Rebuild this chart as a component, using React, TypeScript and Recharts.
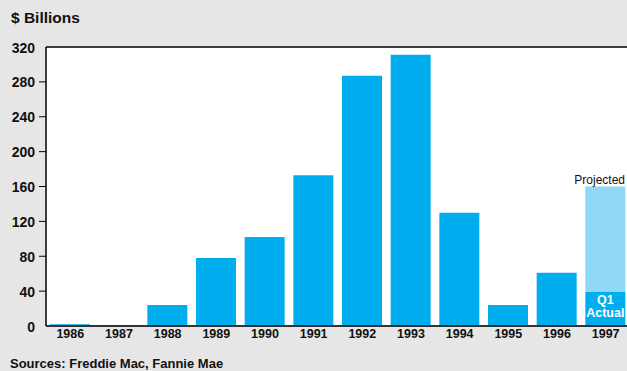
import React from "react";
import { BarChart, Bar, XAxis, YAxis, CartesianGrid, ReferenceLine, LabelList } from "recharts";

const years = ["1986", "1987", "1988", "1989", "1990", "1991", "1992", "1993", "1994", "1995", "1996", "1997"];
const actualValues = [2, 1, 24, 78, 102, 173, 287, 311, 130, 24, 61, 39];
const projectedValues = [0, 0, 0, 0, 0, 0, 0, 0, 0, 0, 0, 121];
const yTicks = [0, 40, 80, 120, 160, 200, 240, 280, 320];

const data = years.map((y, i) => ({ year: y, actual: actualValues[i], projected: projectedValues[i] }));

const FONT = "'Liberation Sans', Arial, sans-serif";

const YTick = (props: any) => {
  const { x, y, payload } = props;
  const v = payload.value;
  return (
    <g>
      {v !== 0 && v !== 320 && <line x1={x + 1} x2={x + 8} y1={y} y2={y} stroke="#000" strokeWidth={1} />}
      <text x={x - 3} y={y + 5.5} textAnchor="end" fontFamily={FONT} fontWeight="bold" fontSize={14} fill="#111">
        {v}
      </text>
    </g>
  );
};

const XTick = (props: any) => {
  const { x, y, payload } = props;
  return (
    <text x={x} y={y + 4} textAnchor="middle" fontFamily={FONT} fontWeight="bold" fontSize={12.5} fill="#111">
      {payload.value}
    </text>
  );
};

const ProjectedLabel = (props: any) => {
  const { x, y, value } = props;
  if (!value) return null;
  return (
    <text x={x - 11} y={y - 3} textAnchor="start" fontFamily={FONT} fontSize={12} fill="#111">
      Projected
    </text>
  );
};

const ActualLabel = (props: any) => {
  const { x, y, width, index } = props;
  if (index !== years.length - 1) return null;
  const cx = x + width / 2;
  return (
    <g>
      <text x={cx} y={y + 12} textAnchor="middle" fontFamily={FONT} fontWeight="bold" fontSize={12.5} fill="#fff">
        Q1
      </text>
      <text x={cx} y={y + 25} textAnchor="middle" fontFamily={FONT} fontWeight="bold" fontSize={12.5} fill="#fff">
        Actual
      </text>
    </g>
  );
};

export default function App() {
  return (
    <div
      style={{
        position: "absolute",
        left: 0,
        top: 0,
        width: 627,
        height: 371,
        overflow: "hidden",
        background: "#e6e6e6",
        fontFamily: FONT,
      }}
    >
      <div style={{ position: "absolute", left: 11, top: 9, fontSize: 15.5, fontWeight: "bold", color: "#111" }}>
        $ Billions
      </div>
      <div
        style={{
          position: "absolute",
          left: 10,
          top: 357,
          fontSize: 13,
          lineHeight: "14px",
          fontWeight: "bold",
          color: "#111",
        }}
      >
        Sources: Freddie Mac, Fannie Mae
      </div>
      <div style={{ position: "absolute", left: 0, top: 0 }}>
        <BarChart width={630} height={371} data={data} margin={{ top: 47, right: 0, bottom: 0, left: 0 }}>
          <CartesianGrid fill="#ffffff" horizontal={false} vertical={false} />
          <YAxis
            width={46}
            domain={[0, 320]}
            ticks={yTicks}
            interval={0}
            tickLine={false}
            axisLine={{ stroke: "#000", strokeWidth: 1.5 }}
            tick={<YTick />}
          />
          <XAxis
            dataKey="year"
            height={45}
            interval={0}
            tickLine={false}
            axisLine={{ stroke: "#333", strokeWidth: 2 }}
            tick={<XTick />}
          />
          <ReferenceLine y={320} stroke="#000" strokeWidth={1.5} />
          <Bar dataKey="actual" stackId="a" fill="#00aeef" barSize={40} isAnimationActive={false}>
            <LabelList dataKey="actual" content={<ActualLabel />} />
          </Bar>
          <Bar dataKey="projected" stackId="a" fill="#8fd8f7" barSize={40} isAnimationActive={false}>
            <LabelList dataKey="projected" content={<ProjectedLabel />} />
          </Bar>
        </BarChart>
      </div>
    </div>
  );
}
